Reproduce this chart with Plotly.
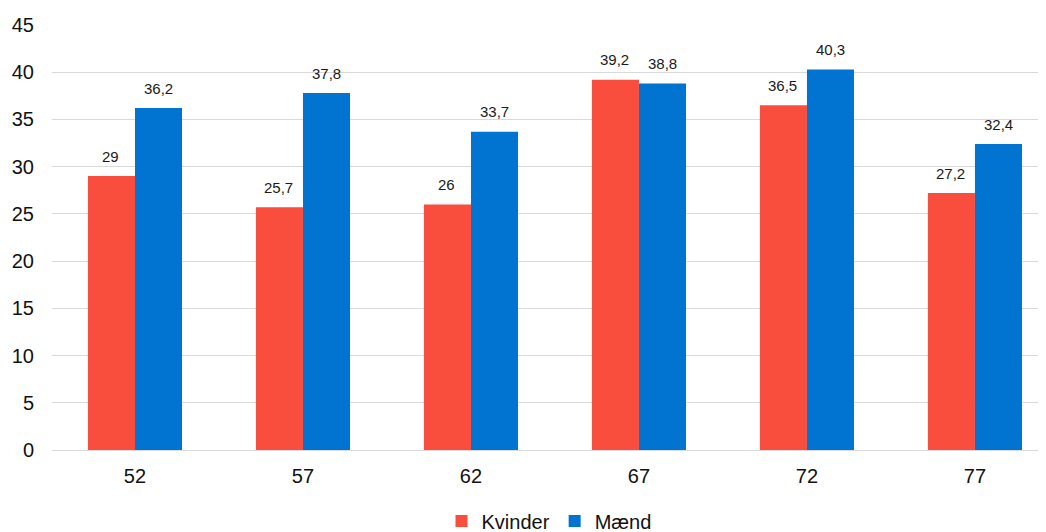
import plotly.graph_objects as go

categories = ["52", "57", "62", "67", "72", "77"]
kvinder = [29, 25.7, 26, 39.2, 36.5, 27.2]
maend = [36.2, 37.8, 33.7, 38.8, 40.3, 32.4]
y_ticks = [0, 5, 10, 15, 20, 25, 30, 35, 40, 45]

def fmt(v):
    return ("%g" % v).replace(".", ",")

FONT = "Liberation Sans, Arial, sans-serif"
RED = "#F94D3D"
BLUE = "#0074D0"

fig = go.Figure()
fig.add_trace(go.Bar(name="Kvinder", x=categories, y=kvinder,
                     marker=dict(color=RED, line=dict(width=0))))
fig.add_trace(go.Bar(name="Mænd", x=categories, y=maend,
                     marker=dict(color=BLUE, line=dict(width=0))))

annotations = []
for series, shift in ((kvinder, -24), (maend, 24)):
    for i, v in enumerate(series):
        annotations.append(dict(x=i, y=v, xref="x", yref="y", text=fmt(v),
                                showarrow=False, xshift=shift, yshift=20,
                                yanchor="middle", xanchor="center",
                                font=dict(size=15, color="#1a1a1a", family=FONT)))

fig.update_layout(
    width=1046, height=532,
    margin=dict(l=44, r=8, t=17, b=90, autoexpand=False),
    paper_bgcolor="white", plot_bgcolor="white",
    barmode="group", bargap=0.44, bargroupgap=0.0,
    font=dict(family=FONT, size=20, color="#111111"),
    showlegend=True,
    legend=dict(orientation="h", x=0.5, xanchor="center", y=-0.167, yanchor="middle",
                font=dict(size=20, color="#111111"), itemwidth=30, tracegroupgap=0),
    annotations=annotations,
)
fig.update_yaxes(range=[0, 45], tickvals=y_ticks, showgrid=True, gridcolor="#D9D9D9",
                 gridwidth=1.3, zeroline=False, showline=False, ticks="",
                 ticklabelstandoff=17, automargin=False,
                 tickfont=dict(size=20, family=FONT))
fig.update_xaxes(range=[-0.494, 5.423], showgrid=False, showline=True, linecolor="#D9D9D9",
                 linewidth=1.3, ticks="", ticklabelstandoff=8, automargin=False,
                 tickfont=dict(size=20, family=FONT))

fig.write_html("out.html")
